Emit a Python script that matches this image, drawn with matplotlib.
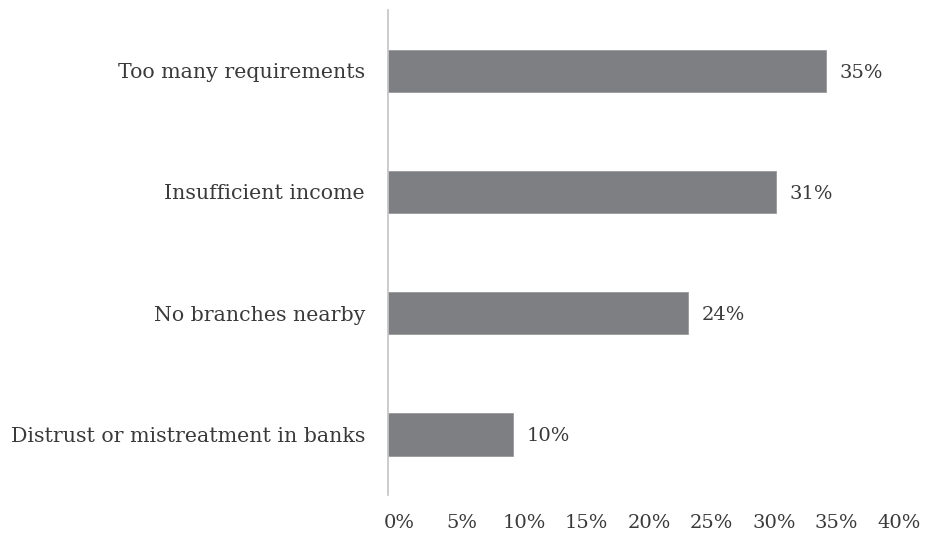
import matplotlib
matplotlib.use("Agg")
import matplotlib.pyplot as plt
from matplotlib.transforms import ScaledTranslation

categories = ["Too many requirements", "Insufficient income",
              "No branches nearby", "Distrust or mistreatment in banks"]
values = [35, 31, 24, 10]
tick_values = [0, 5, 10, 15, 20, 25, 30, 35, 40]
tick_labels = ["0%", "5%", "10%", "15%", "20%", "25%", "30%", "35%", "40%"]

plt.rcParams["font.family"] = ["DejaVu Serif"]
text_color = "#3a3a3a"

fig = plt.figure(figsize=(9.26, 5.38), dpi=100)
ax = fig.add_axes([0.419, 0.080, 0.540, 0.901])

ypos = list(range(len(categories)))[::-1]
ax.barh(ypos, values, height=0.35, color="#7e7f83", edgecolor="#9a9a9d", linewidth=0.6)

for y, v in zip(ypos, values):
    ax.annotate(f"{v}%", xy=(v, y), xytext=(14, -2), textcoords="offset pixels",
                ha="left", va="center", fontsize=14, color=text_color)

ax.set_xlim(0, 40)
ax.set_ylim(-0.5, 3.5)
ax.set_yticks(ypos)
ax.set_yticklabels(categories, fontsize=14.8, color=text_color)
ax.set_xticks(tick_values)
ax.set_xticklabels(tick_labels, fontsize=14, color=text_color)
ax.tick_params(axis="both", length=0)
ax.tick_params(axis="y", pad=16.5)
ax.tick_params(axis="x", pad=13.5)
for lbl in ax.get_xticklabels():
    lbl.set_transform(lbl.get_transform() + ScaledTranslation(0.11, 0, fig.dpi_scale_trans))
    lbl.set_clip_on(False)

for side in ["top", "right", "bottom"]:
    ax.spines[side].set_visible(False)
ax.spines["left"].set_color("#c4c4c4")
ax.spines["left"].set_linewidth(1.2)

fig.savefig("out.png", dpi=100)
